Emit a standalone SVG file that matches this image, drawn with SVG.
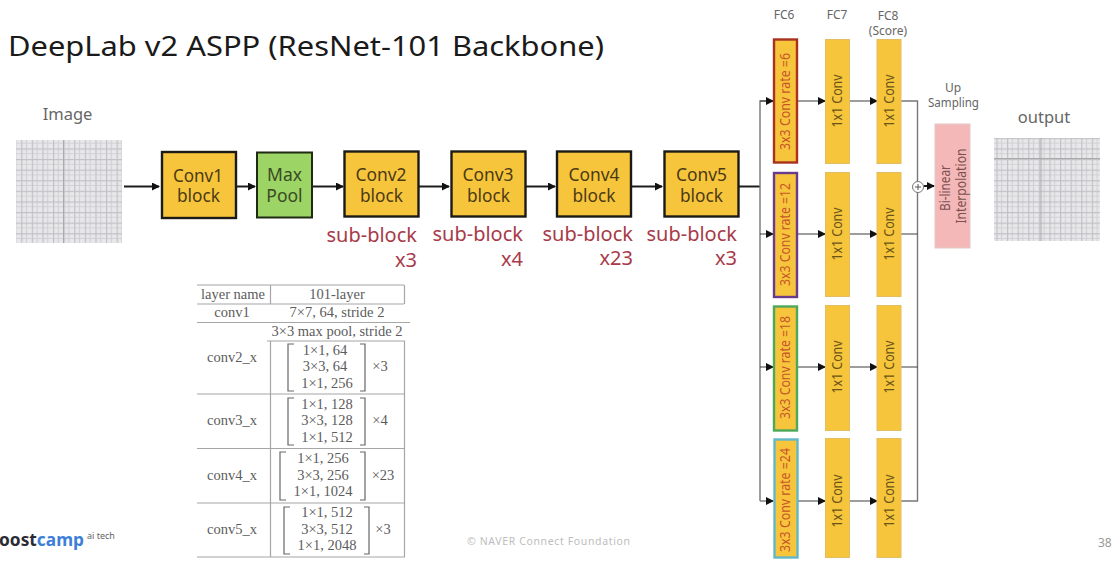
<svg xmlns="http://www.w3.org/2000/svg" width="1114" height="574" viewBox="0 0 1114 574">
<style>
text{font-family:"Noto Sans","Open Sans","Liberation Sans",sans-serif}
.blk{fill:#f7c53c;stroke:#1c1a14;stroke-width:2.4}
.blkt{font-size:18.5px;fill:#4a3a14;text-anchor:middle}
.sub{font-size:20px;fill:#a83a48;text-anchor:end}
.cap{font-size:12px;fill:#666;text-anchor:middle}
.conv{fill:#f7c53c;stroke:#e3bd62;stroke-width:1}
.convt{font-size:13.5px;fill:#6a5518;text-anchor:middle}
.ratet{font-size:14px;fill:#c8552a;text-anchor:middle}
.w{stroke:#1c1c1c;stroke-width:2;fill:none}
.t{stroke:#3c3c3c;stroke-width:1;fill:none}
.g{stroke:#77777a;stroke-width:1.4;fill:none}
.tl{stroke:#a6a6a6;stroke-width:1.2;fill:none}
.br{stroke:#666;stroke-width:1.2;fill:none}
.tt{font-family:"Liberation Serif",serif;font-size:14.500px;fill:#5c5c5c;text-anchor:middle}
</style>
<defs>
<marker id="ah" markerWidth="8" markerHeight="8" refX="7" refY="4" orient="auto" markerUnits="userSpaceOnUse"><path d="M0 0L8 4L0 8Z" fill="#111"/></marker>
<pattern id="cell" width="10.6" height="10.6" patternUnits="userSpaceOnUse"><rect width="10.6" height="10.6" fill="#e8e7ea"/><path d="M5.3 0V10.600M0 5.300H10.600" stroke="#d2d1d4" stroke-width="1.200"/><path d="M0.600 0V10.600M0 0.600H10.600" stroke="#c2c1c5" stroke-width="1.200"/></pattern>
</defs>
<rect width="1114" height="574" fill="#fff"/>
<text x="8" y="56" font-size="28" fill="#1a1a1a" textLength="596" lengthAdjust="spacingAndGlyphs">DeepLab v2 ASPP (ResNet-101 Backbone)</text>

<g id="connectors">
<path class="w" d="M124 186.500H159" marker-end="url(#ah)"/>
<path class="w" d="M236 186.500H255" marker-end="url(#ah)"/>
<path class="w" d="M312 186.500H343" marker-end="url(#ah)"/>
<path class="w" d="M419 186.500H449" marker-end="url(#ah)"/>
<path class="w" d="M526 186.500H555" marker-end="url(#ah)"/>
<path class="w" d="M632 186.500H662" marker-end="url(#ah)"/>
<path class="w" d="M739 186.500H760"/>
<path class="g" d="M760 501H773" marker-end="url(#ah)"/>
<path class="g" d="M773 101H760V501"/>
<path class="t" d="M760 101H773" marker-end="url(#ah)"/>
<path class="t" d="M760 234H773" marker-end="url(#ah)"/>
<path class="t" d="M760 367H773" marker-end="url(#ah)"/>
<path class="t" d="M797 101H825" marker-end="url(#ah)"/>
<path class="t" d="M849 101H877" marker-end="url(#ah)"/>
<path class="t" d="M797 234H825" marker-end="url(#ah)"/>
<path class="t" d="M849 234H877" marker-end="url(#ah)"/>
<path class="t" d="M797 367H825" marker-end="url(#ah)"/>
<path class="t" d="M849 367H877" marker-end="url(#ah)"/>
<path class="t" d="M797 501H825" marker-end="url(#ah)"/>
<path class="t" d="M849 501H877" marker-end="url(#ah)"/>
<path class="g" d="M901 101H917.500V501H901"/>
<path class="t" d="M901 234H917.500M901 367H917.500"/>
<path class="w" d="M924 186H934" marker-end="url(#ah)"/>
</g>

<g id="image">
<text x="67.500" y="120" font-size="16.500" fill="#666" text-anchor="middle">Image</text>
<rect x="16" y="140" width="106" height="103" fill="url(#cell)"/>
<path d="M63.500 140V243" stroke="#aaa" stroke-width="1"/>
</g>
<g id="conv1"><rect class="blk" x="162" y="152" width="74" height="66"/><text class="blkt" x="198" y="182" textLength="50" lengthAdjust="spacingAndGlyphs">Conv1</text><text class="blkt" x="198.500" y="202" textLength="43" lengthAdjust="spacingAndGlyphs">block</text></g>
<g id="maxpool"><rect x="257" y="152.500" width="55" height="65" fill="#9cd465" stroke="#1f2a12" stroke-width="2"/><text class="blkt" x="284.500" y="180.500" style="font-size:17.500px;fill:#3a4a24">Max</text><text class="blkt" x="284.500" y="202" style="font-size:17.500px;fill:#3a4a24">Pool</text></g>
<g id="conv2"><rect class="blk" x="344.500" y="151.500" width="74" height="65"/><text class="blkt" x="381" y="180.500" textLength="51" lengthAdjust="spacingAndGlyphs">Conv2</text><text class="blkt" x="381.500" y="201.500" textLength="43" lengthAdjust="spacingAndGlyphs">block</text></g>
<g id="conv3"><rect class="blk" x="451.500" y="151.500" width="74" height="65"/><text class="blkt" x="488" y="180.500" textLength="51" lengthAdjust="spacingAndGlyphs">Conv3</text><text class="blkt" x="488.500" y="201.500" textLength="43" lengthAdjust="spacingAndGlyphs">block</text></g>
<g id="conv4"><rect class="blk" x="557" y="151.500" width="74" height="65"/><text class="blkt" x="594" y="180.500" textLength="51" lengthAdjust="spacingAndGlyphs">Conv4</text><text class="blkt" x="594" y="201.500" textLength="43" lengthAdjust="spacingAndGlyphs">block</text></g>
<g id="conv5"><rect class="blk" x="664.500" y="151.500" width="74" height="65"/><text class="blkt" x="701.500" y="180.500" textLength="51" lengthAdjust="spacingAndGlyphs">Conv5</text><text class="blkt" x="701.500" y="201.500" textLength="43" lengthAdjust="spacingAndGlyphs">block</text></g>

<g id="sub2"><text class="sub" x="417" y="242">sub-block</text><text class="sub" x="417" y="267">x3</text></g>
<g id="sub3"><text class="sub" x="523" y="241">sub-block</text><text class="sub" x="523" y="266">x4</text></g>
<g id="sub4"><text class="sub" x="633" y="241">sub-block</text><text class="sub" x="633" y="265">x23</text></g>
<g id="sub5"><text class="sub" x="737" y="241">sub-block</text><text class="sub" x="737" y="265">x3</text></g>

<g id="fc-labels">
<text class="cap" x="784" y="19">FC6</text><text class="cap" x="837" y="19">FC7</text>
<text class="cap" x="888" y="20">FC8</text><text class="cap" x="888" y="35">(Score)</text>
<text class="cap" x="953" y="92">Up</text><text class="cap" x="953.500" y="107" textLength="51" lengthAdjust="spacingAndGlyphs">Sampling</text>
</g>

<g id="fc6-r6"><rect x="774" y="39.500" width="23" height="123" fill="#f7c53c" stroke="#a8321e" stroke-width="2.400"/><text class="ratet" transform="translate(790 101.500) rotate(-90)" textLength="97" lengthAdjust="spacingAndGlyphs">3x3 Conv rate =6</text></g>
<g id="fc6-r12"><rect x="774" y="173" width="23" height="124" fill="#f7c53c" stroke="#6a3a8c" stroke-width="2.400"/><text class="ratet" transform="translate(790 234.500) rotate(-90)" textLength="103" lengthAdjust="spacingAndGlyphs">3x3 Conv rate =12</text></g>
<g id="fc6-r18"><rect x="774" y="306.500" width="23" height="124" fill="#f7c53c" stroke="#4ea85a" stroke-width="2.400"/><text class="ratet" transform="translate(790 367.500) rotate(-90)" textLength="103" lengthAdjust="spacingAndGlyphs">3x3 Conv rate =18</text></g>
<g id="fc6-r24"><rect x="774.500" y="439.500" width="23" height="118" fill="#f7c53c" stroke="#62b8c8" stroke-width="2.400"/><text class="ratet" transform="translate(790 500) rotate(-90)" textLength="104" lengthAdjust="spacingAndGlyphs">3x3 Conv rate =24</text></g>

<g id="fc7-1"><rect class="conv" x="825.500" y="39.500" width="24" height="124"/><text class="convt" transform="translate(842 101) rotate(-90)" textLength="53" lengthAdjust="spacingAndGlyphs">1x1 Conv</text></g>
<g id="fc7-2"><rect class="conv" x="825.500" y="172.500" width="24" height="124"/><text class="convt" transform="translate(842 234) rotate(-90)" textLength="53" lengthAdjust="spacingAndGlyphs">1x1 Conv</text></g>
<g id="fc7-3"><rect class="conv" x="825.500" y="305.500" width="24" height="125"/><text class="convt" transform="translate(842 367) rotate(-90)" textLength="53" lengthAdjust="spacingAndGlyphs">1x1 Conv</text></g>
<g id="fc7-4"><rect class="conv" x="825.500" y="438.500" width="24" height="119"/><text class="convt" transform="translate(842 501) rotate(-90)" textLength="53" lengthAdjust="spacingAndGlyphs">1x1 Conv</text></g>
<g id="fc8-1"><rect class="conv" x="877" y="39.500" width="24" height="124"/><text class="convt" transform="translate(893.500 101) rotate(-90)" textLength="53" lengthAdjust="spacingAndGlyphs">1x1 Conv</text></g>
<g id="fc8-2"><rect class="conv" x="877" y="172.500" width="24" height="124"/><text class="convt" transform="translate(893.500 234) rotate(-90)" textLength="53" lengthAdjust="spacingAndGlyphs">1x1 Conv</text></g>
<g id="fc8-3"><rect class="conv" x="877" y="305.500" width="24" height="125"/><text class="convt" transform="translate(893.500 367) rotate(-90)" textLength="53" lengthAdjust="spacingAndGlyphs">1x1 Conv</text></g>
<g id="fc8-4"><rect class="conv" x="877" y="438.500" width="24" height="119"/><text class="convt" transform="translate(893.500 501) rotate(-90)" textLength="53" lengthAdjust="spacingAndGlyphs">1x1 Conv</text></g>

<g id="sum"><circle cx="918" cy="187" r="5.500" fill="#fff" stroke="#777" stroke-width="1"/><path d="M915 187H921M918 184V190" stroke="#555" stroke-width="1"/></g>
<g id="bilinear"><rect x="935" y="124" width="35" height="124" fill="#f5b8b8" stroke="#e5c8c8" stroke-width="1"/><text class="cap" style="font-size:13.500px;fill:#7a5050" transform="translate(950 188) rotate(-90)" textLength="46" lengthAdjust="spacingAndGlyphs">Bi-linear</text><text class="cap" style="font-size:13.500px;fill:#7a5050" transform="translate(966 186) rotate(-90)" textLength="75" lengthAdjust="spacingAndGlyphs">Interpolation</text></g>
<g id="output">
<text x="1044" y="123" font-size="16.500" fill="#666" text-anchor="middle">output</text>
<rect x="994" y="138" width="106" height="103" fill="url(#cell)"/>
<path d="M1041 138V241M994 158.500H1100" stroke="#aaa" stroke-width="1"/>
</g>

<g id="layer-table">
<path class="tl" d="M197 285H404M197 304H404M197 322.500H410M267 341H405M197 394H405M197 448.500H405M197 503H405M197 557H405"/>
<path class="tl" d="M270.500 285V304M404.500 285V304M270.500 341V557M404.500 341V557"/>
<text class="tt" x="233" y="299">layer name</text><text class="tt" x="337" y="299">101-layer</text>
<text class="tt" x="232" y="317">conv1</text><text class="tt" x="337" y="317">7×7, 64, stride 2</text>
<text class="tt" x="337" y="336">3×3 max pool, stride 2</text>
<text class="tt" x="232" y="362">conv2_x</text><text class="tt" x="325" y="355">1×1, 64</text><text class="tt" x="325" y="371">3×3, 64</text><text class="tt" x="327" y="388">1×1, 256</text><text class="tt" x="380" y="371">×3</text>
<text class="tt" x="232" y="425">conv3_x</text><text class="tt" x="327" y="409">1×1, 128</text><text class="tt" x="327" y="425">3×3, 128</text><text class="tt" x="327" y="442">1×1, 512</text><text class="tt" x="380" y="425">×4</text>
<text class="tt" x="232" y="480">conv4_x</text><text class="tt" x="323" y="463">1×1, 256</text><text class="tt" x="323" y="480">3×3, 256</text><text class="tt" x="323" y="496">1×1, 1024</text><text class="tt" x="383" y="480">×23</text>
<text class="tt" x="232" y="534">conv5_x</text><text class="tt" x="327" y="517">1×1, 512</text><text class="tt" x="327" y="534">3×3, 512</text><text class="tt" x="327" y="550">1×1, 2048</text><text class="tt" x="383" y="534">×3</text>
<path class="br" d="M294 344H288V391H294M360 344H365V391H360M294 398H288V445H294M360 398H365V445H360M286 452H280V500H286M360 452H365V500H360M290 507H284V554H290M364 507H369V554H364"/>
</g>

<g id="footer">
<text x="-1" y="546" font-size="17.500" font-weight="700" fill="#2b2b33" textLength="85" lengthAdjust="spacingAndGlyphs">oost<tspan fill="#3d7fd8">camp</tspan></text>
<text x="87" y="539" font-size="9" fill="#666">ai tech</text>
<text x="467" y="545" font-size="10.500" fill="#bdbdbd" textLength="163" lengthAdjust="spacing">©  NAVER Connect Foundation</text>
<text x="1098" y="547" font-size="12" fill="#999">38</text>
</g>
</svg>
